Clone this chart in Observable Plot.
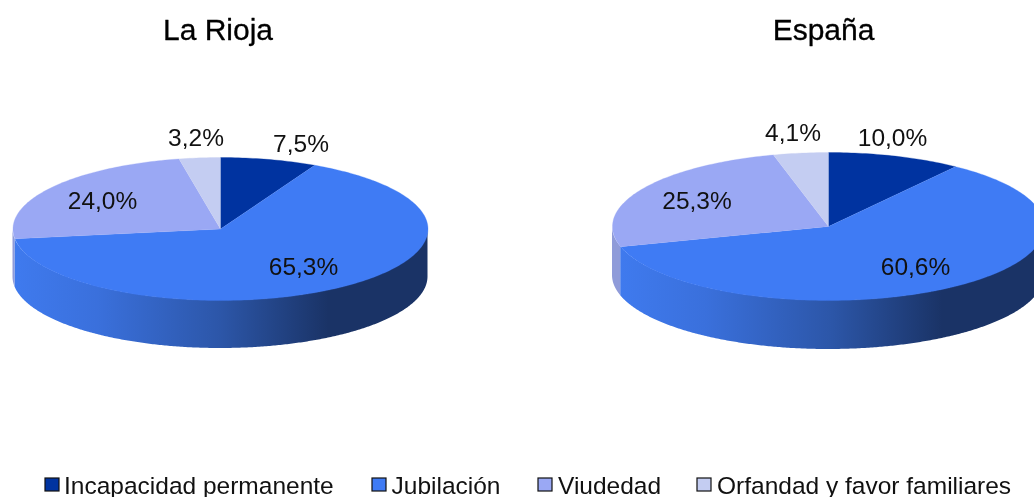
<!DOCTYPE html>
<html lang="es">
<head>
<meta charset="utf-8">
<script src="https://cdn.jsdelivr.net/npm/d3@7"></script>
<script src="https://cdn.jsdelivr.net/npm/@observablehq/plot@0.6"></script>
<style>
html,body{margin:0;padding:0;background:#fff;overflow:hidden}
#chart{width:1034px;height:497px}
#chart svg{filter:blur(0.35px)}
</style>
</head>
<body>
<div id="chart"></div>
<script>
// Data
const categories = ["Incapacidad permanente", "Jubilación", "Viudedad", "Orfandad y favor familiares"];
const regions = ["La Rioja", "España"];
const laRioja = [7.5, 65.3, 24.0, 3.2];
const espana = [10.0, 60.6, 25.3, 4.1];
const labelsLaRioja = ["7,5%", "65,3%", "24,0%", "3,2%"];
const labelsEspana = ["10,0%", "60,6%", "25,3%", "4,1%"];

// Styles and layout
const topColors = ["#0033a0", "#3f7bf4", "#9aa8f4", "#c4cdf2"];
const sideFills = ["#001f66", "url(#sideBlue)", "#8f9bd9", "#8f9bd9"];
const pies = [
  {cx: 220, cy: 228.5, rx: 207.5, ry: 71.5, depth: 48, values: laRioja, labels: labelsLaRioja,
   labelX: [300.5, 303, 102, 195.5], labelY: [144, 267, 201, 138], titleX: 217.5},
  {cx: 828, cy: 226, rx: 216, ry: 74, depth: 49, values: espana, labels: labelsEspana,
   labelX: [892, 915, 696.5, 792.5], labelY: [138, 267, 201, 133], titleX: 823}
];
const legendX = [45, 372, 538, 697];
const legendTextX = [63.5, 391, 557.5, 716.5];
const font = "'Liberation Sans', Helvetica, Arial, sans-serif";

const rad = d => d * Math.PI / 180;
const wedges = [], walls = [], texts = [];
pies.forEach((p, pi) => {
  const pt = t => ({x: p.cx + p.rx * Math.sin(rad(t)), y: p.cy - p.ry * Math.cos(rad(t))});
  let start = 0;
  p.values.forEach((v, i) => {
    const end = start + v * 3.6;
    const key = pi + "-" + i;
    const steps = Math.max(2, Math.ceil(end - start));
    wedges.push({x: p.cx, y: p.cy, key, i});
    for (let k = 0; k <= steps; k++) wedges.push({...pt(start + (end - start) * k / steps), key, i});
    const a = Math.max(start, 90), b = Math.min(end, 270);
    if (b > a) {
      const n = Math.ceil(b - a) * 2;
      for (let k = 0; k <= n; k++) {
        const q = pt(a + (b - a) * k / n);
        walls.push({x: q.x, y1: q.y, y2: q.y + p.depth, key, i});
      }
    }
    texts.push({x: p.labelX[i], y: p.labelY[i], t: p.labels[i]});
    start = end;
  });
});

const sideMarks = sideFills.map((fill, i) =>
  Plot.area(walls.filter(d => d.i === i), {x1: "x", y1: "y1", y2: "y2", z: "key", fill, clip: true, curve: "linear"}));
const topMarks = topColors.map((fill, i) =>
  Plot.line(wedges.filter(d => d.i === i), {x: "x", y: "y", z: "key", fill, stroke: fill, strokeWidth: 0.3, clip: true, curve: "linear"}));

const chart = Plot.plot({
  width: 1034,
  height: 497,
  margin: 0,
  style: {background: "#fff", overflow: "hidden"},
  x: {domain: [0, 1034], range: [0, 1034], axis: null},
  y: {domain: [0, 497], range: [0, 497], axis: null},
  marks: [
    () => {
      const ns = "http://www.w3.org/2000/svg";
      const defs = document.createElementNS(ns, "defs");
      const g = document.createElementNS(ns, "linearGradient");
      g.setAttribute("id", "sideBlue");
      [[0, "#3f7aee"], [0.2, "#3a70dc"], [0.5, "#2c56a8"], [0.76, "#1a3366"], [1, "#1a3366"]].forEach(([o, c]) => {
        const s = document.createElementNS(ns, "stop");
        s.setAttribute("offset", o);
        s.setAttribute("stop-color", c);
        g.appendChild(s);
      });
      defs.appendChild(g);
      return defs;
    },
    ...sideMarks,
    ...topMarks,
    Plot.text(texts, {x: "x", y: "y", text: "t", fontSize: 24.5, fill: "#111", fontFamily: font, textAnchor: "middle", lineAnchor: "middle"}),
    Plot.text(regions, {x: (d, i) => pies[i].titleX, y: () => 39, text: d => d, fontSize: 30, fill: "#000", stroke: "#000", strokeWidth: 0.3, fontFamily: font, textAnchor: "middle", lineAnchor: "bottom"}),
    Plot.rect(categories, {x1: (d, i) => legendX[i], x2: (d, i) => legendX[i] + 14, y1: () => 478, y2: () => 491, fill: (d, i) => topColors[i], stroke: "#111", strokeWidth: 1.2}),
    Plot.text(categories, {x: (d, i) => legendTextX[i], y: () => 493, text: d => d, fontSize: 24.5, fill: "#111", fontFamily: font, textAnchor: "start", lineAnchor: "bottom"})
  ]
});
document.getElementById("chart").appendChild(chart);
</script>
</body>
</html>
